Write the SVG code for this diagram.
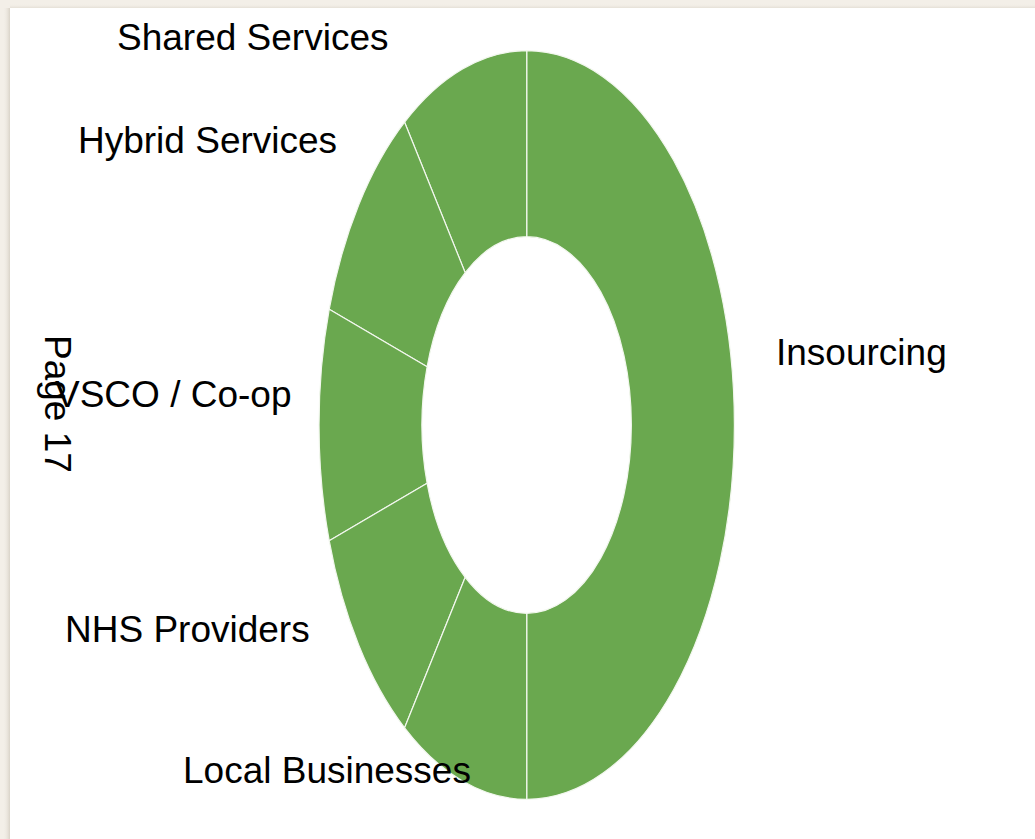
<svg xmlns="http://www.w3.org/2000/svg" width="1035" height="839" viewBox="0 0 1035 839">
  <defs>
    <linearGradient id="shadowL" x1="0" y1="0" x2="1" y2="0">
      <stop offset="0" stop-color="#f3efe8" stop-opacity="0"/>
      <stop offset="1" stop-color="#d9d3c8"/>
    </linearGradient>
    <linearGradient id="shadowT" x1="0" y1="0" x2="0" y2="1">
      <stop offset="0" stop-color="#f3efe8" stop-opacity="0"/>
      <stop offset="1" stop-color="#e4dfd6"/>
    </linearGradient>
  </defs>
  <style>
    .seg { fill: #6aa84f; stroke: #f2f7ee; stroke-width: 1.2; stroke-linejoin: round; }
    .lbl { font-family: "Liberation Sans", Arial, sans-serif; font-size: 37px; fill: #000000; }
  </style>
  <rect x="0" y="0" width="1035" height="839" fill="#f3efe8"/>
  <rect x="3" y="8" width="7" height="831" fill="url(#shadowL)"/>
  <rect x="10" y="4" width="1025" height="4" fill="url(#shadowT)"/>
  <rect x="10" y="8" width="1025" height="831" fill="#ffffff"/>

  <g id="seg-insourcing">
    <path class="seg" d="M526.7 50.7 A207.7 374.3 0 0 1 526.7 799.3 L526.7 613.3 A104.7 188.3 0 0 0 526.7 236.7 Z"/>
    <text class="lbl" x="776" y="365">Insourcing</text>
  </g>
  <g id="seg-shared">
    <path class="seg" d="M526.7 50.7 A207.7 374.3 0 0 0 404.6 122.2 L465.2 272.7 A104.7 188.3 0 0 1 526.7 236.7 Z"/>
    <text class="lbl" x="117" y="50">Shared Services</text>
  </g>
  <g id="seg-hybrid">
    <path class="seg" d="M404.6 122.2 A207.7 374.3 0 0 0 329.2 309.3 L427.1 366.8 A104.7 188.3 0 0 1 465.2 272.7 Z"/>
    <text class="lbl" x="78" y="153">Hybrid Services</text>
  </g>
  <g id="seg-vsco">
    <path class="seg" d="M329.2 309.3 A207.7 374.3 0 0 0 329.2 540.7 L427.1 483.2 A104.7 188.3 0 0 1 427.1 366.8 Z"/>
    <text class="lbl" x="55" y="407">VSCO / Co-op</text>
  </g>
  <g id="seg-nhs">
    <path class="seg" d="M329.2 540.7 A207.7 374.3 0 0 0 404.6 727.8 L465.2 577.3 A104.7 188.3 0 0 1 427.1 483.2 Z"/>
    <text class="lbl" x="65" y="642">NHS Providers</text>
  </g>
  <g id="seg-local">
    <path class="seg" d="M404.6 727.8 A207.7 374.3 0 0 0 526.7 799.3 L526.7 613.3 A104.7 188.3 0 0 1 465.2 577.3 Z"/>
    <text class="lbl" x="183" y="783">Local Businesses</text>
  </g>

  <g id="connectors"></g>

  <g id="page-number">
    <text class="lbl" transform="translate(45,335) rotate(90)" x="0" y="0">Page 17</text>
  </g>
</svg>
